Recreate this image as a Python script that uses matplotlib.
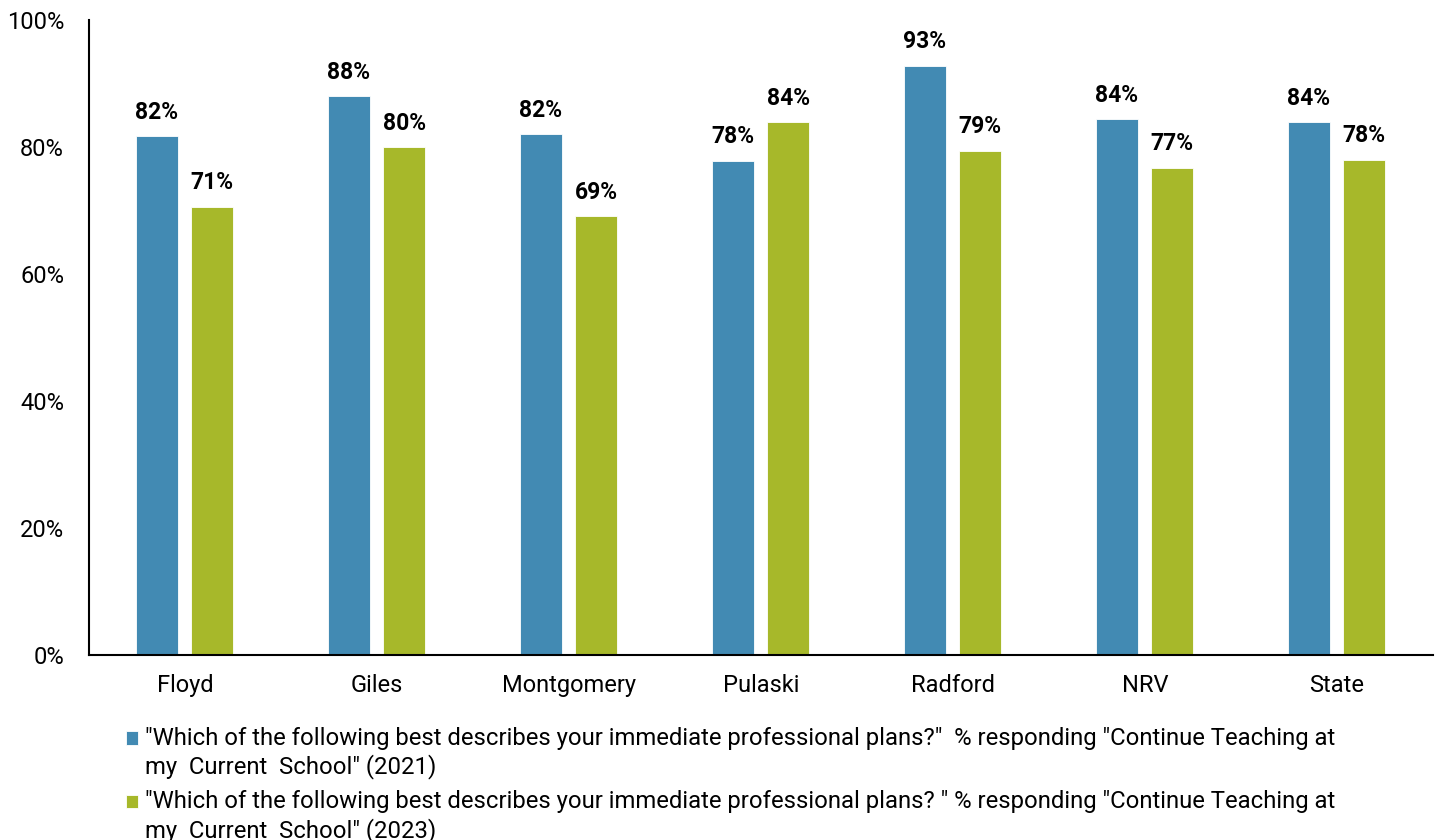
import matplotlib.pyplot as plt
import numpy as np
from matplotlib.patches import Rectangle
from matplotlib.container import BarContainer
from matplotlib.legend_handler import HandlerPatch, update_from_first_child

plt.rcParams['font.family'] = ['Roboto', 'DejaVu Sans']

counties = ['Floyd', 'Giles', 'Montgomery', 'Pulaski', 'Radford', 'NRV', 'State']
plans_2021 = [81.7, 88.0, 82.0, 77.8, 92.8, 84.4, 83.9]
plans_2023 = [70.6, 80.0, 69.1, 83.9, 79.4, 76.7, 78.0]
label_2021 = ('"Which of the following best describes your immediate professional plans?"  % responding "Continue Teaching at\n'
              'my  Current  School" (2021)')
label_2023 = ('"Which of the following best describes your immediate professional plans? " % responding "Continue Teaching at\n'
              'my  Current  School" (2023)')

blue = '#428AB3'
green = '#A7B82A'
legend_size = 17.2
line_spacing = 1.25


def top_line_square(legend, orig_handle, xdescent, ydescent, width, height, fontsize):
    # put the square next to the first line of a two-line label
    shift = 0.65 * fontsize
    return Rectangle((-xdescent, -ydescent + shift), width, height)


fig = plt.figure(figsize=(14.39, 8.4), dpi=100)
ax = fig.add_axes([89 / 1439, 1 - 655 / 840, 1344 / 1439, 635 / 840])

x = np.arange(len(counties))
w = 0.219
b1 = ax.bar(x - 0.148, plans_2021, w, color=blue, edgecolor='white', linewidth=0.6, label=label_2021)
b2 = ax.bar(x + 0.142, plans_2023, w, color=green, edgecolor='white', linewidth=0.6, label=label_2023)
for bars in (b1, b2):
    ax.bar_label(bars, labels=[f'{v:.0f}%' for v in bars.datavalues], padding=9,
                 fontsize=16.5, fontweight='bold')

ax.set_xlim(-0.5, len(counties) - 0.5)
ax.set_ylim(0, 100)
ax.set_yticks(np.arange(0, 101, 20))
ax.set_yticklabels([f'{t}%' for t in range(0, 101, 20)])
ax.set_xticks(x)
ax.set_xticklabels(counties)
ax.tick_params(axis='both', length=0, labelsize=17)
ax.tick_params(axis='y', pad=18)
ax.tick_params(axis='x', pad=14)
for s in ['top', 'right']:
    ax.spines[s].set_visible(False)
ax.spines['left'].set_linewidth(1.5)
ax.spines['bottom'].set_linewidth(1.5)

leg = fig.legend(loc='upper left', bbox_to_anchor=(116 / 1439, 1 - 717 / 840), frameon=False,
                 fontsize=legend_size, handlelength=0.5, handleheight=0.5, handletextpad=0.33,
                 labelspacing=0.45, borderaxespad=0,
                 handler_map={BarContainer: HandlerPatch(patch_func=top_line_square,
                                                         update_func=update_from_first_child)})
for t in leg.get_texts():
    t.set_linespacing(line_spacing)

fig.savefig('out.png')
